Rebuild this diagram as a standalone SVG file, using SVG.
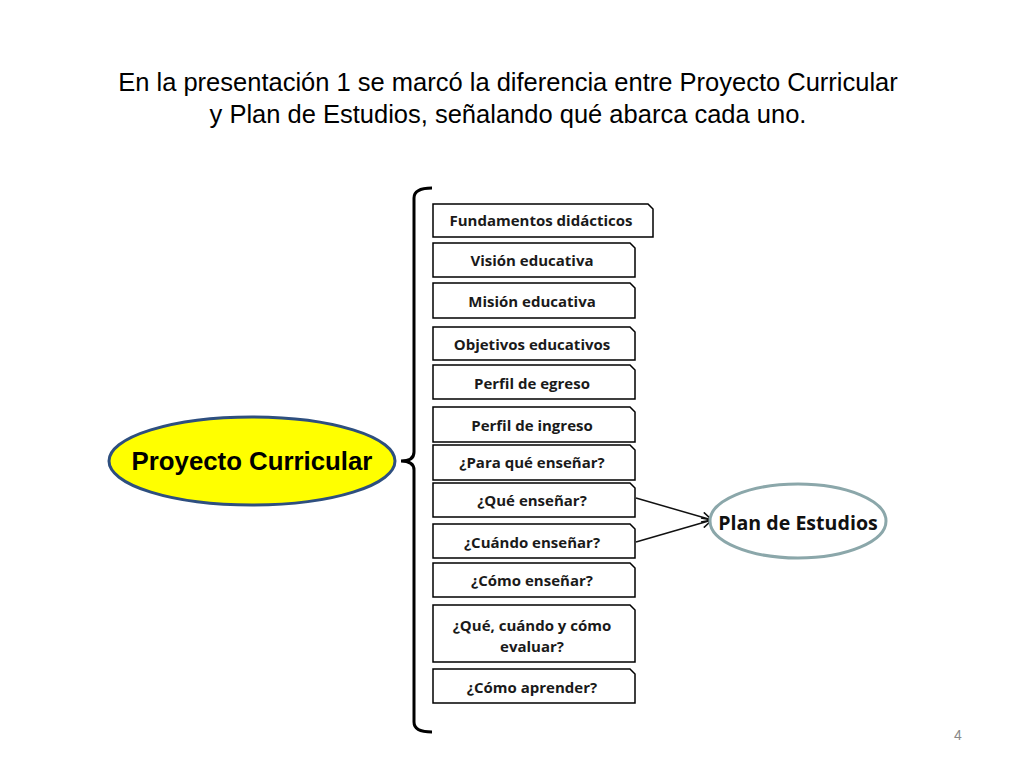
<svg xmlns="http://www.w3.org/2000/svg" width="1024" height="768" viewBox="0 0 1024 768">
<defs>
<style>
.title{font-family:"Liberation Sans",Arial,sans-serif;font-size:25.5px;fill:#000;text-anchor:middle}
.box{fill:#fff;stroke:#000;stroke-width:1.5}
.bt{font-family:"Open Sans","Noto Sans",sans-serif;font-weight:bold;font-size:15px;fill:#1a1a1a;text-anchor:middle}
.conn{stroke:#111;stroke-width:1.5;fill:none}
</style>
<marker id="arr" viewBox="0 0 12 12" refX="11" refY="6" markerWidth="12" markerHeight="12" markerUnits="userSpaceOnUse" orient="auto">
<path d="M1,1 L11,6 L1,11" fill="none" stroke="#111" stroke-width="1.5"/>
</marker>
</defs>
<rect width="1024" height="768" fill="#fff"/>
<text class="title" x="508" y="91">En la presentación 1 se marcó la diferencia entre Proyecto Curricular</text>
<text class="title" x="508" y="123">y Plan de Estudios, señalando qué abarca cada uno.</text>

<g id="proyecto">
<ellipse cx="252" cy="461" rx="143" ry="44" fill="#ffff00" stroke="#2e4f7f" stroke-width="3"/>
<text x="252" y="470" font-family="'Liberation Sans',Arial,sans-serif" font-weight="bold" font-size="25.8" text-anchor="middle">Proyecto Curricular</text>
</g>

<g id="brace">
<path d="M432,188 Q414,188 414,198 V452 Q414,461 401,461 Q414,461 414,470 V722 Q414,732 432,732" fill="none" stroke="#000" stroke-width="3"/>
</g>

<g id="n1"><path class="box" d="M433,204 H648 L653,209 V237 H433 Z"/><text class="bt" x="541" y="226">Fundamentos didácticos</text></g>
<g id="n2"><path class="box" d="M433,243 H630 L635,248 V277 H433 Z"/><text class="bt" x="532" y="266">Visión educativa</text></g>
<g id="n3"><path class="box" d="M433,283 H630 L635,288 V318 H433 Z"/><text class="bt" x="532" y="307">Misión educativa</text></g>
<g id="n4"><path class="box" d="M433,327 H630 L635,332 V360 H433 Z"/><text class="bt" x="532" y="350">Objetivos educativos</text></g>
<g id="n5"><path class="box" d="M433,365 H630 L635,370 V399 H433 Z"/><text class="bt" x="532" y="389">Perfil de egreso</text></g>
<g id="n6"><path class="box" d="M433,407 H630 L635,412 V442 H433 Z"/><text class="bt" x="532" y="431">Perfil de ingreso</text></g>
<g id="n7"><path class="box" d="M433,445 H630 L635,450 V480 H433 Z"/><text class="bt" x="532" y="468">¿Para qué enseñar?</text></g>
<g id="n8"><path class="box" d="M433,483 H630 L635,488 V517 H433 Z"/><text class="bt" x="532" y="506">¿Qué enseñar?</text></g>
<g id="n9"><path class="box" d="M433,524 H630 L635,529 V558 H433 Z"/><text class="bt" x="532" y="548">¿Cuándo enseñar?</text></g>
<g id="n10"><path class="box" d="M433,563 H630 L635,568 V597 H433 Z"/><text class="bt" x="532" y="586">¿Cómo enseñar?</text></g>
<g id="n11"><path class="box" d="M433,605 H630 L635,610 V662 H433 Z"/><text class="bt" x="532" y="631">¿Qué, cuándo y cómo</text><text class="bt" x="532" y="652">evaluar?</text></g>
<g id="n12"><path class="box" d="M433,669 H630 L635,674 V703 H433 Z"/><text class="bt" x="532" y="693">¿Cómo aprender?</text></g>

<g id="connectors">
<line class="conn" x1="636" y1="498" x2="712" y2="520" marker-end="url(#arr)"/>
<line class="conn" x1="636" y1="542" x2="712" y2="520" marker-end="url(#arr)"/>
</g>

<g id="plan">
<ellipse cx="798" cy="521" rx="88" ry="37" fill="#fff" stroke="#8ba7aa" stroke-width="3"/>
<text x="798" y="530" font-family="'Open Sans','Noto Sans',sans-serif" font-weight="bold" font-size="19.6" text-anchor="middle" fill="#111">Plan de Estudios</text>
</g>

<text x="958" y="740" font-family="'Liberation Sans',Arial,sans-serif" font-size="14" fill="#888" text-anchor="middle">4</text>
</svg>
